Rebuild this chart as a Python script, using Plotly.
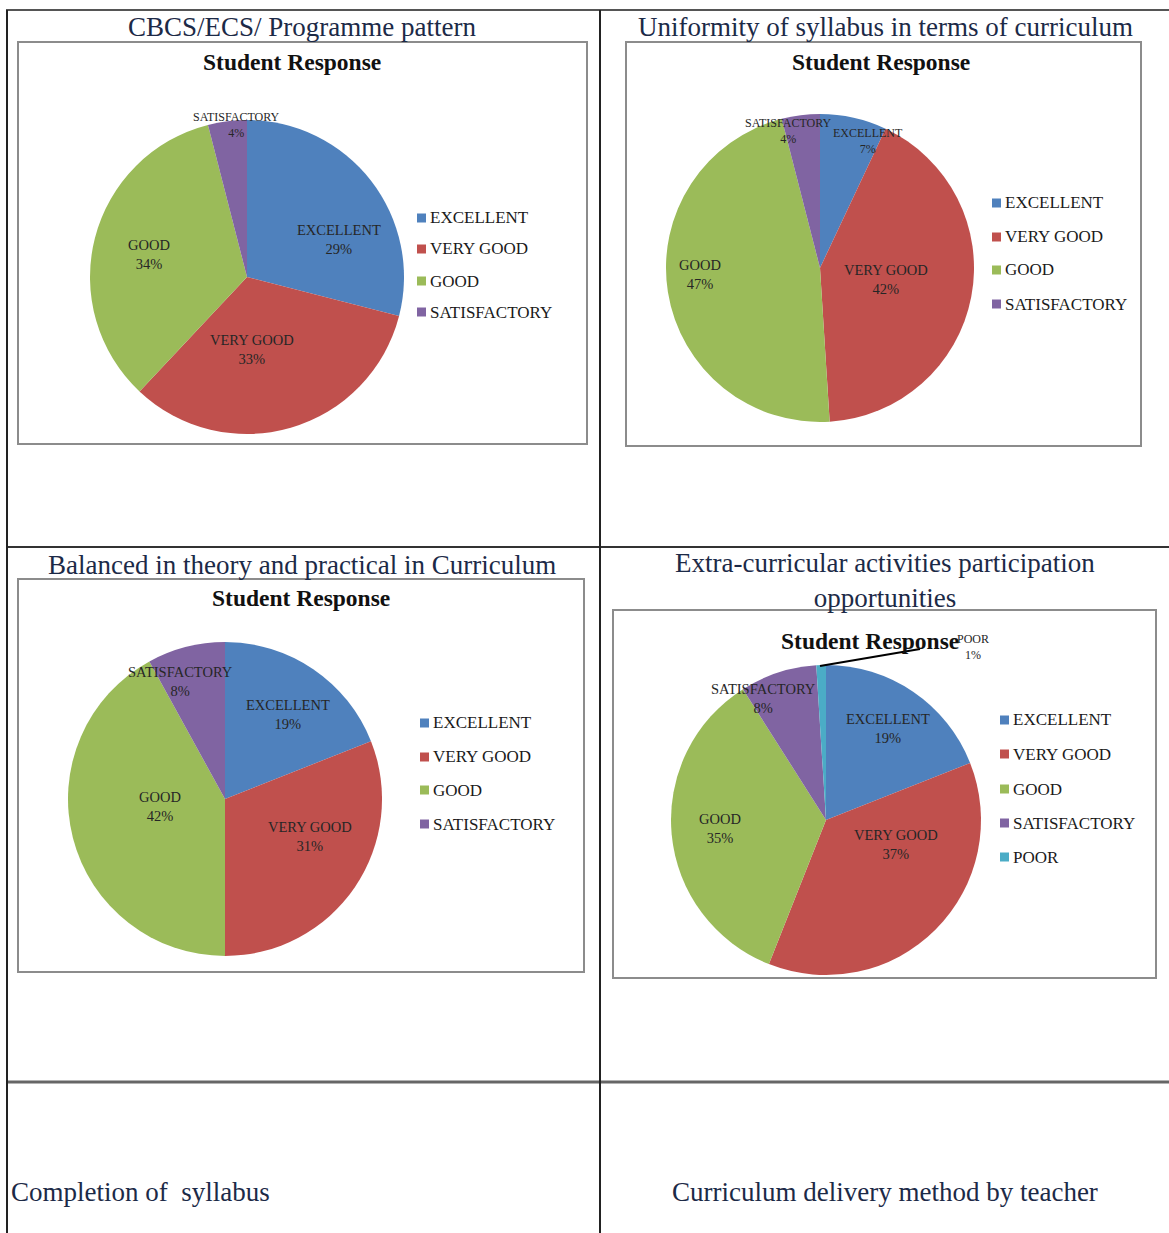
import plotly.graph_objects as go

# ---------------- data ----------------
categories = ["EXCELLENT", "VERY GOOD", "GOOD", "SATISFACTORY"]
categories_extra = ["EXCELLENT", "VERY GOOD", "GOOD", "SATISFACTORY", "POOR"]
cbcs_values = [29, 33, 34, 4]
uniformity_values = [7, 42, 47, 4]
balanced_values = [19, 31, 42, 8]
extra_values = [19, 37, 35, 8, 1]
panel_titles = [
    "CBCS/ECS/ Programme pattern",
    "Uniformity of syllabus in terms of curriculum",
    "Balanced in theory and practical in Curriculum",
    "Extra-curricular activities participation<br>opportunities",
]
bottom_titles = ["Completion of  syllabus", "Curriculum delivery method by teacher"]
chart_title = "Student Response"

# ---------------- style / layout ----------------
W, H = 1169, 1233
COLORS = ["#4F81BD", "#C0504D", "#9BBB59", "#8064A2", "#4BACC6"]
SERIF = "Liberation Serif, Times New Roman, serif"
TITLE_COLOR = "#1c2a47"


def px(x):
    return x / W


def py(y):
    return 1 - y / H


panels = [
    dict(cats=categories, vals=cbcs_values, cx=247, cy=277, r=157,
         box=(18, 42, 587, 444), title_xy=(302, 27), sr_xy=(292, 62),
         leg_x=421, leg_y=[218, 249, 281, 312],
         lab=[(339, 240, 14.5), (252, 349, 14.5), (149, 254, 14.5), (236, 125, 12)]),
    dict(cats=categories, vals=uniformity_values, cx=820, cy=268, r=154,
         box=(626, 42, 1141, 446), title_xy=(885, 27), sr_xy=(881, 62),
         leg_x=996, leg_y=[203, 237, 270, 304],
         lab=[(868, 141, 12), (886, 279, 14.5), (700, 274, 14.5), (788, 131, 12)]),
    dict(cats=categories, vals=balanced_values, cx=225, cy=799, r=157,
         box=(18, 579, 584, 972), title_xy=(302, 565), sr_xy=(301, 598),
         leg_x=424, leg_y=[723, 757, 790, 824],
         lab=[(288, 714, 14.5), (310, 836, 14.5), (160, 806, 14.5), (180, 681, 14.5)]),
    dict(cats=categories_extra, vals=extra_values, cx=826, cy=820, r=155,
         box=(613, 610, 1156, 978), title_xy=(885, 580), sr_xy=(870, 641),
         leg_x=1004, leg_y=[720, 754, 789, 823, 857],
         lab=[(888, 728, 14.5), (896, 844, 14.5), (720, 828, 14.5), (763, 698, 14.5), (973, 647, 12)]),
]

fig = go.Figure()
shapes = []
annotations = []

for idx, p in enumerate(panels):
    cx, cy, r = p["cx"], p["cy"], p["r"]
    fig.add_trace(go.Pie(
        labels=p["cats"], values=p["vals"], sort=False, direction="clockwise",
        rotation=0, textinfo="none", hoverinfo="label+percent",
        marker=dict(colors=COLORS[:len(p["vals"])], line=dict(width=0)),
        showlegend=False,
        domain=dict(x=[px(cx - r), px(cx + r)], y=[py(cy + r), py(cy - r)]),
    ))
    x0, y0, x1, y1 = p["box"]
    shapes.append(dict(type="rect", xref="paper", yref="paper",
                       x0=px(x0), x1=px(x1), y0=py(y1), y1=py(y0),
                       line=dict(color="#8c8c8c", width=2), layer="below"))
    annotations.append(dict(text=f"<b>{chart_title}</b>", x=px(p["sr_xy"][0]), y=py(p["sr_xy"][1]),
                            xref="paper", yref="paper", showarrow=False,
                            xanchor="center", yanchor="middle",
                            font=dict(family=SERIF, size=23.5, color="#111111")))
    # data labels
    for cat, val, (lx, ly, fs) in zip(p["cats"], p["vals"], p["lab"]):
        annotations.append(dict(text=f"{cat}<br>{val}%", x=px(lx), y=py(ly),
                                xref="paper", yref="paper", showarrow=False,
                                xanchor="center", yanchor="middle",
                                font=dict(family=SERIF, size=fs, color="#262626")))
    # legend
    for i, (cat, ly) in enumerate(zip(p["cats"], p["leg_y"])):
        lx = p["leg_x"]
        shapes.append(dict(type="rect", xref="paper", yref="paper",
                           x0=px(lx - 4), x1=px(lx + 5), y0=py(ly + 4.5), y1=py(ly - 4.5),
                           fillcolor=COLORS[i], line=dict(width=0)))
        annotations.append(dict(text=cat, x=px(lx + 7), y=py(ly), xref="paper", yref="paper",
                                showarrow=False, xanchor="left", yanchor="middle",
                                font=dict(family=SERIF, size=17, color="#1a1a1a")))
    # panel title
    annotations.append(dict(text=panel_titles[idx], x=px(p["title_xy"][0]),
                            y=py(p["title_xy"][1]), xref="paper", yref="paper",
                            showarrow=False, xanchor="center", yanchor="middle",
                            font=dict(family=SERIF, size=27, color=TITLE_COLOR)))

# leader line for POOR
shapes.append(dict(type="line", xref="paper", yref="paper",
                   x0=px(820), y0=py(666), x1=px(920), y1=py(649),
                   line=dict(color="#000000", width=2)))

# bottom row titles
annotations.append(dict(text=bottom_titles[0], x=px(9), y=py(1192), xref="paper", yref="paper",
                        showarrow=False, xanchor="left", yanchor="middle",
                        font=dict(family=SERIF, size=27, color=TITLE_COLOR)))
annotations.append(dict(text=bottom_titles[1], x=px(885), y=py(1192), xref="paper", yref="paper",
                        showarrow=False, xanchor="center", yanchor="middle",
                        font=dict(family=SERIF, size=27, color=TITLE_COLOR)))


# table grid lines
def hline(y, x0, x1, color, w):
    shapes.append(dict(type="line", xref="paper", yref="paper", x0=px(x0), x1=px(x1),
                       y0=py(y), y1=py(y), line=dict(color=color, width=w)))


def vline(x, y0, y1, color, w):
    shapes.append(dict(type="line", xref="paper", yref="paper", x0=px(x), x1=px(x),
                       y0=py(y0), y1=py(y1), line=dict(color=color, width=w)))


hline(10, 6, 1169, "#555555", 2)
hline(547, 6, 1169, "#333333", 2)
hline(1082, 6, 1169, "#666666", 3)
vline(7, 10, 1233, "#222222", 2)
vline(600, 10, 1233, "#222222", 2)

fig.update_layout(
    width=W, height=H, margin=dict(l=0, r=0, t=0, b=0),
    paper_bgcolor="white", plot_bgcolor="white",
    shapes=shapes, annotations=annotations, showlegend=False,
)

fig.write_html("out.html", config={"displayModeBar": False},
               post_script="document.body.style.margin='0';")
